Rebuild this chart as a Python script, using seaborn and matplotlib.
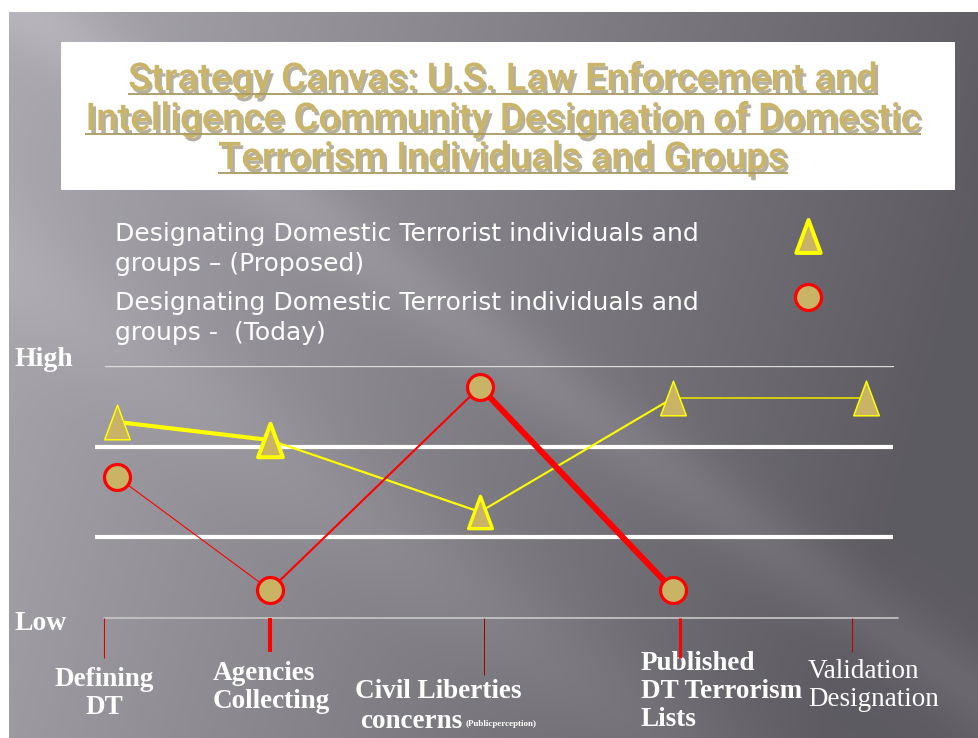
import numpy as np
import matplotlib
matplotlib.use("Agg")
import matplotlib.pyplot as plt
import seaborn as sns
from matplotlib.patches import Rectangle
from matplotlib.path import Path
from matplotlib import patheffects as pe

# ---------------- data ----------------
stages = ["Defining DT", "Agencies Collecting", "Civil Liberties concerns",
          "Published DT Terrorism Lists", "Validation Designation"]
stage_pos = [0.10, 1.00, 2.235, 3.37, 4.506]      # horizontal position of each stage
tick_pos = [0.024, 1.00, 2.259, 3.412, 4.424]      # position of the stage tick marks
proposed = [7.78, 7.06, 4.21, 8.73, 8.73]          # Designating ... (Proposed)
today = [5.60, 1.11, 9.17, 1.11]                   # Designating ... (Today)
guide_levels = [3.21, 6.79]
title_lines = ["Strategy Canvas: U.S. Law Enforcement and",
               "Intelligence Community Designation of Domestic",
               "Terrorism Individuals and Groups"]
legend_proposed = ["Designating Domestic Terrorist individuals and", "groups \u2013 (Proposed)"]
legend_today = ["Designating Domestic Terrorist individuals and", "groups -  (Today)"]
level_labels = ["High", "Low"]

sns.set_style("white")
plt.rcParams["font.family"] = ["DejaVu Sans"]

W, H = 979, 738
fig = plt.figure(figsize=(W / 100, H / 100), dpi=100)
fig.patch.set_facecolor("white")

# background (slide) axes in pixel coordinates
bg = fig.add_axes([0, 0, 1, 1])
bg.set_xlim(0, W)
bg.set_ylim(H, 0)
bg.axis("off")

yy, xx = np.mgrid[12:H, 9:W].astype(float)
xn, yn = xx / W, yy / H
v = 0.36 + 0.31 * np.clip(1 - (0.95 * xn + 0.2 * yn), 0, 1)
p = xx * 0.72 - yy
v = v + 0.05 * np.exp(-((p - 10) / 45) ** 2) + 0.035 * np.exp(-((p + 260) / 70) ** 2)
rgb = np.clip(np.dstack([v + 0.008, v, v + 0.025]), 0, 1)
bg.imshow(rgb, extent=(9, W, H, 12), aspect="auto", zorder=0, interpolation="bilinear")

# title box
bg.add_patch(Rectangle((61, 42), 894, 148, facecolor="white", edgecolor="none", zorder=1))
gold = "#c9b468"
title_font = ["Roboto", "DejaVu Sans"]
renderer = fig.canvas.get_renderer()
for line, base in zip(title_lines, [90, 130, 169]):
    t = bg.text(503, base, line, ha="center", va="baseline", fontsize=27.5, color=gold,
                family=title_font, fontweight="medium", zorder=3,
                path_effects=[pe.SimplePatchShadow(offset=(2, -2.5), shadow_rgbFace="#6f6440", alpha=0.5),
                              pe.Normal()])
    bb = t.get_window_extent(renderer).transformed(bg.transData.inverted())
    x0, x1 = min(bb.x0, bb.x1), max(bb.x0, bb.x1)
    bg.plot([x0, x1], [base + 4, base + 4], color="#a89a60", lw=1.3, zorder=3, solid_capstyle="butt")

# legend text
for line, base in zip(legend_proposed + legend_today, [241, 271, 310, 340]):
    bg.text(115, base, line, ha="left", va="baseline", fontsize=18, color="white", zorder=3)

fill = "#c9b466"
tri = Path([(-0.37, -0.5), (0.37, -0.5), (0.0, 0.5), (-0.37, -0.5)],
           [Path.MOVETO, Path.LINETO, Path.LINETO, Path.CLOSEPOLY])
# legend keys
bg.scatter([808], [236], marker=tri, s=560, facecolor=fill, edgecolor="#ffff00", linewidths=2.9, zorder=4)
bg.scatter([808], [297], marker="o", s=350, facecolor=fill, edgecolor="#ff0000", linewidths=2.3, zorder=4)

# High / Low
serif = ["Liberation Serif", "DejaVu Serif"]
bg.text(15, 360, level_labels[0], ha="left", va="center", fontsize=20, fontweight="bold",
        color="white", family=serif, zorder=3)
bg.text(15, 623, level_labels[1], ha="left", va="center", fontsize=20, fontweight="bold",
        color="white", family=serif, zorder=3)

# ---------------- chart axes ----------------
ax = fig.add_axes([95 / W, (H - 618) / H, 803 / W, 252 / H])
ax.patch.set_alpha(0)
ax.set_xlim(-0.0294, 4.694)
ax.set_ylim(0, 10)
ax.axis("off")

ax.axhline(10, xmin=0.0125, xmax=0.994, color="#dcdcdc", lw=1.0, zorder=2)
ax.axhline(0, xmin=0.011, xmax=1.0, color="#c8c8c8", lw=1.2, zorder=2, clip_on=False)
ax.hlines(guide_levels, -0.0294, 4.665, color="white", lw=3.0, zorder=2)

# stage tick marks
tick_bottom = [-1.59, -1.35, -2.26, -1.59, -1.35]
tick_lw = [0.8, 2.9, 0.7, 2.2, 0.8]
tick_col = ["#e00000", "#ff0000", "#a00000", "#ff0000", "#c00010"]
for xp, yb, lw, c in zip(tick_pos, tick_bottom, tick_lw, tick_col):
    ax.vlines(xp, yb, 0, color=c, lw=lw, zorder=2, clip_on=False)

# series lines (segment widths vary as in the reference)
prop_lw = [3.0, 1.6, 1.5, 1.2]
prop_col = ["#ffff00", "#ffff00", "#ffff00", "#e6e000"]
for i in range(len(proposed) - 1):
    sns.lineplot(x=stage_pos[i:i + 2], y=proposed[i:i + 2], ax=ax, color=prop_col[i],
                 lw=prop_lw[i], sort=False, estimator=None, legend=False, zorder=3)
today_lw = [0.8, 1.5, 4.3]
for i in range(len(today) - 1):
    sns.lineplot(x=stage_pos[i:i + 2], y=today[i:i + 2], ax=ax, color="#ff0000",
                 lw=today_lw[i], sort=False, estimator=None, legend=False, zorder=4)

# markers
tri_s = [620, 580, 540, 620, 620]
tri_lw = [1.1, 2.9, 2.4, 1.1, 1.1]
for xp, yv, s, lw in zip(stage_pos, proposed, tri_s, tri_lw):
    sns.scatterplot(x=[xp], y=[yv], ax=ax, marker=tri, s=s, color=fill, edgecolor="#ffff00",
                    linewidth=lw, zorder=5, clip_on=False, legend=False)
for xp, yv in zip(stage_pos[:len(today)], today):
    sns.scatterplot(x=[xp], y=[yv], ax=ax, marker="o", s=350, color=fill, edgecolor="#ff0000",
                    linewidth=2.3, zorder=5, clip_on=False, legend=False)

# stage labels
def put(lines, x, ys, ha="left", weight="bold", size=19.5):
    for ln, y in zip(lines, ys):
        bg.text(x, y, ln, ha=ha, va="center", fontsize=size, fontweight=weight,
                color="white", family=serif, zorder=3)

put(["Defining", "DT"], 104, [680, 708], ha="center")
put(["Agencies", "Collecting"], 213, [674, 701])
put(["Civil Liberties"], 355, [691])
put(["concerns"], 360, [721])
bg.text(466, 724, "(Publicperception)", ha="left", va="center", fontsize=6.5, fontweight="bold",
        color="white", family=serif, zorder=3)
put(["Published", "DT Terrorism", "Lists"], 641, [663, 692, 720])
put(["Validation", "Designation"], 808, [672, 700], weight="normal", size=19.5)

fig.savefig("out.png", dpi=100, facecolor="white")
